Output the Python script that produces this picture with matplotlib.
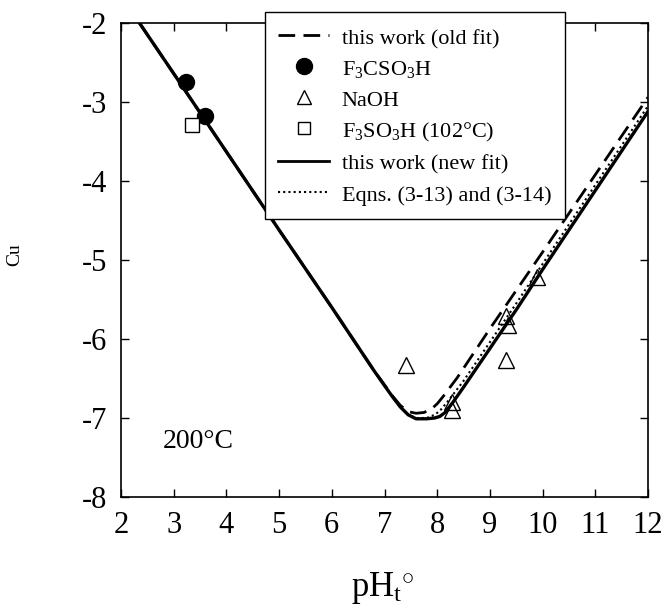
import matplotlib
import numpy as np
from matplotlib import pyplot as plt
from matplotlib.lines import Line2D

matplotlib.use('Agg')

# 实验数据
ph_triflic = [3.23, 3.59]
cu_triflic = [-2.75, -3.18]
ph_naoh = [7.41, 8.28, 8.28, 9.31, 9.34, 9.31, 9.89]
cu_naoh = [-6.33, -6.80, -6.90, -5.71, -5.82, -6.27, -5.21]
ph_102 = [3.35]
cu_102 = [-3.29]

# 拟合曲线 (读取的点)
ph_new = [2.35, 3.0, 4.0, 5.0, 6.0, 6.5, 6.8, 7.0, 7.15, 7.3, 7.45, 7.6, 7.8, 7.95, 8.05, 8.15, 8.3, 8.5, 9.0, 9.5, 10.0, 11.0, 12.0]
cu_new = [-2.00, -2.64, -3.63, -4.62, -5.60, -6.10, -6.40, -6.59, -6.73, -6.86, -6.96, -7.01, -7.01, -7.00, -6.98, -6.93, -6.80, -6.61, -6.12, -5.63, -5.12, -4.12, -3.12]
ph_old = [2.35, 3.0, 4.0, 5.0, 6.0, 6.5, 6.8, 7.0, 7.15, 7.3, 7.45, 7.6, 7.75, 7.9, 8.0, 8.11, 8.38, 8.85, 9.0, 10.0, 11.0, 12.0]
cu_old = [-2.00, -2.64, -3.63, -4.62, -5.60, -6.10, -6.40, -6.58, -6.72, -6.84, -6.92, -6.94, -6.93, -6.88, -6.82, -6.73, -6.49, -6.02, -5.87, -4.90, -3.92, -2.94]
ph_eqn = [2.35, 3.0, 4.0, 5.0, 6.0, 6.5, 6.8, 7.0, 7.15, 7.3, 7.45, 7.6, 7.8, 7.95, 8.05, 8.2, 8.5, 9.0, 9.5, 10.0, 11.0, 12.0]
cu_eqn = [-2.00, -2.64, -3.63, -4.62, -5.60, -6.10, -6.40, -6.59, -6.73, -6.86, -6.96, -7.00, -7.00, -6.96, -6.91, -6.79, -6.53, -6.04, -5.55, -5.05, -4.05, -3.05]

xticks = np.arange(2, 13, 1)
yticks = np.arange(-8, -1, 1)

plt.rcParams.update({"font.family": "Liberation Serif",
                     "mathtext.fontset": "custom",
                     "mathtext.rm": "Liberation Serif",
                     "mathtext.it": "Liberation Serif:italic",
                     "mathtext.bf": "Liberation Serif:bold"})

fig = plt.figure(figsize=(6.66, 6.09), dpi=100)
ax = fig.add_axes([121 / 666, 1 - 497 / 609, (648 - 121) / 666, (497 - 23) / 609])

# 曲线
ln_old, = ax.plot(ph_old, cu_old, color="black", lw=2.0, linestyle=(0, (6, 3)))
ln_eqn, = ax.plot(ph_eqn, cu_eqn, color="black", lw=1.5, linestyle=(0, (1, 1.5)))
ln_new, = ax.plot(ph_new, cu_new, color="black", lw=2.4, solid_capstyle="round",
                  solid_joinstyle="round")

# 数据点
ax.plot(ph_triflic, cu_triflic, 'o', color="black", markersize=11.5)
ax.plot(ph_naoh, cu_naoh, '^', markerfacecolor="none", markeredgecolor="black",
        markersize=11, markeredgewidth=1.0)
ax.plot(ph_102, cu_102, 's', markerfacecolor="white", markeredgecolor="black",
        markersize=9.5, markeredgewidth=1.0)

ax.set_xlim(2, 12)
ax.set_ylim(-8, -2)
ax.set_xticks(xticks)
ax.set_yticks(yticks)
ax.set_xticklabels([str(t) for t in xticks])
ax.set_yticklabels([str(t) for t in yticks])
ax.tick_params(direction="in", top=True, right=True, length=6, width=1,
               labelsize=22, pad=10)
for spine in ax.spines.values():
    spine.set_linewidth(1.2)

ax.text(2.8, -7.3, "200°C", fontsize=20, ha="left", va="center")

fig.text(383 / 666, 1 - 588 / 609, r"pH$_{\rm t}$$^{\circ}$", fontsize=25,
         ha="center", va="center")
fig.text(15 / 666, 1 - 255 / 609, "Cu", fontsize=14, rotation=90,
         ha="center", va="center")

# 图例
handles = [
    Line2D([], [], color="black", lw=2.0, linestyle=(0, (6, 3))),
    Line2D([], [], marker='o', color="black", linestyle="None", markersize=11.5),
    Line2D([], [], marker='^', markerfacecolor="none", markeredgecolor="black",
           linestyle="None", markersize=10),
    Line2D([], [], marker='s', markerfacecolor="white", markeredgecolor="black",
           linestyle="None", markersize=9),
    Line2D([], [], color="black", lw=2.0),
    Line2D([], [], color="black", lw=1.5, linestyle=(0, (1, 1.5))),
]
labels = ["this work (old fit)", "F$_3$CSO$_3$H", "NaOH",
          "F$_3$SO$_3$H (102°C)", "this work (new fit)", "Eqns. (3-13) and (3-14)"]
leg = ax.legend(handles, labels, loc="upper left",
                bbox_to_anchor=(265 / 666, 1 - 12 / 609),
                bbox_transform=fig.transFigure, borderaxespad=0,
                fontsize=16, frameon=True, fancybox=False, framealpha=1,
                edgecolor="black", handlelength=2.3, handletextpad=0.55,
                handleheight=1.18, labelspacing=0.33, borderpad=0.6)
leg.get_frame().set_linewidth(1.0)

plt.savefig("out.png", dpi=100)
